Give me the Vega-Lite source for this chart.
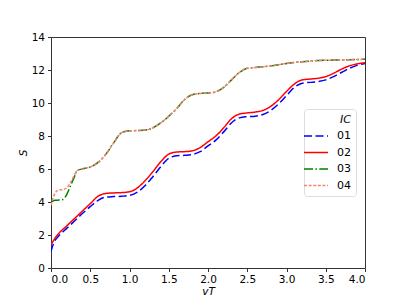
{
  "$schema": "https://vega.github.io/schema/vega-lite/v6.json",
  "width": 314,
  "height": 231,
  "autosize": {"type": "none"},
  "padding": {"left": 51, "top": 37, "right": 42, "bottom": 37},
  "background": "white",
  "config": {
    "font": "DejaVu Sans",
    "view": {"stroke": "#333333", "strokeWidth": 1},
    "axis": {"grid": false, "domain": false, "tickColor": "#333333", "tickSize": 3.5, "labelFontSize": 10.5, "labelColor": "#000000", "titleFontSize": 10.5, "titleFontWeight": "normal", "titleFontStyle": "italic", "titleColor": "#000000"}
  },
  "data": {
    "values": [
      {"vT": 0.0, "S": 1.0, "IC": "01"}, {"vT": 0.03, "S": 1.45, "IC": "01"}, {"vT": 0.05, "S": 1.65, "IC": "01"}, {"vT": 0.1, "S": 1.95, "IC": "01"}, {"vT": 0.2, "S": 2.4, "IC": "01"}, {"vT": 0.3, "S": 2.85, "IC": "01"}, {"vT": 0.4, "S": 3.3, "IC": "01"}, {"vT": 0.5, "S": 3.72, "IC": "01"}, {"vT": 0.6, "S": 4.1, "IC": "01"}, {"vT": 0.7, "S": 4.3, "IC": "01"}, {"vT": 0.8, "S": 4.33, "IC": "01"}, {"vT": 0.9, "S": 4.35, "IC": "01"}, {"vT": 1.0, "S": 4.4, "IC": "01"}, {"vT": 1.1, "S": 4.6, "IC": "01"}, {"vT": 1.2, "S": 5.0, "IC": "01"}, {"vT": 1.3, "S": 5.55, "IC": "01"}, {"vT": 1.4, "S": 6.15, "IC": "01"}, {"vT": 1.5, "S": 6.65, "IC": "01"}, {"vT": 1.6, "S": 6.8, "IC": "01"}, {"vT": 1.7, "S": 6.83, "IC": "01"}, {"vT": 1.8, "S": 6.88, "IC": "01"}, {"vT": 1.9, "S": 7.05, "IC": "01"}, {"vT": 2.0, "S": 7.4, "IC": "01"}, {"vT": 2.1, "S": 7.75, "IC": "01"}, {"vT": 2.2, "S": 8.25, "IC": "01"}, {"vT": 2.3, "S": 8.8, "IC": "01"}, {"vT": 2.4, "S": 9.1, "IC": "01"}, {"vT": 2.5, "S": 9.17, "IC": "01"}, {"vT": 2.6, "S": 9.2, "IC": "01"}, {"vT": 2.7, "S": 9.3, "IC": "01"}, {"vT": 2.8, "S": 9.55, "IC": "01"}, {"vT": 2.9, "S": 9.95, "IC": "01"}, {"vT": 3.0, "S": 10.45, "IC": "01"}, {"vT": 3.1, "S": 10.95, "IC": "01"}, {"vT": 3.2, "S": 11.2, "IC": "01"}, {"vT": 3.3, "S": 11.25, "IC": "01"}, {"vT": 3.4, "S": 11.3, "IC": "01"}, {"vT": 3.5, "S": 11.4, "IC": "01"}, {"vT": 3.6, "S": 11.6, "IC": "01"}, {"vT": 3.7, "S": 11.85, "IC": "01"}, {"vT": 3.8, "S": 12.1, "IC": "01"}, {"vT": 3.9, "S": 12.28, "IC": "01"}, {"vT": 4.0, "S": 12.4, "IC": "01"},

      {"vT": 0.0, "S": 1.4, "IC": "02"}, {"vT": 0.05, "S": 1.8, "IC": "02"}, {"vT": 0.1, "S": 2.1, "IC": "02"}, {"vT": 0.2, "S": 2.55, "IC": "02"}, {"vT": 0.3, "S": 3.0, "IC": "02"}, {"vT": 0.4, "S": 3.45, "IC": "02"}, {"vT": 0.5, "S": 3.9, "IC": "02"}, {"vT": 0.6, "S": 4.35, "IC": "02"}, {"vT": 0.7, "S": 4.52, "IC": "02"}, {"vT": 0.8, "S": 4.55, "IC": "02"}, {"vT": 0.9, "S": 4.57, "IC": "02"}, {"vT": 1.0, "S": 4.62, "IC": "02"}, {"vT": 1.1, "S": 4.85, "IC": "02"}, {"vT": 1.2, "S": 5.3, "IC": "02"}, {"vT": 1.3, "S": 5.85, "IC": "02"}, {"vT": 1.4, "S": 6.45, "IC": "02"}, {"vT": 1.5, "S": 6.9, "IC": "02"}, {"vT": 1.6, "S": 7.03, "IC": "02"}, {"vT": 1.7, "S": 7.05, "IC": "02"}, {"vT": 1.8, "S": 7.1, "IC": "02"}, {"vT": 1.9, "S": 7.3, "IC": "02"}, {"vT": 2.0, "S": 7.65, "IC": "02"}, {"vT": 2.1, "S": 8.0, "IC": "02"}, {"vT": 2.2, "S": 8.5, "IC": "02"}, {"vT": 2.3, "S": 9.05, "IC": "02"}, {"vT": 2.4, "S": 9.33, "IC": "02"}, {"vT": 2.5, "S": 9.4, "IC": "02"}, {"vT": 2.6, "S": 9.45, "IC": "02"}, {"vT": 2.7, "S": 9.55, "IC": "02"}, {"vT": 2.8, "S": 9.8, "IC": "02"}, {"vT": 2.9, "S": 10.2, "IC": "02"}, {"vT": 3.0, "S": 10.7, "IC": "02"}, {"vT": 3.1, "S": 11.15, "IC": "02"}, {"vT": 3.2, "S": 11.4, "IC": "02"}, {"vT": 3.3, "S": 11.45, "IC": "02"}, {"vT": 3.4, "S": 11.5, "IC": "02"}, {"vT": 3.5, "S": 11.6, "IC": "02"}, {"vT": 3.6, "S": 11.8, "IC": "02"}, {"vT": 3.7, "S": 12.05, "IC": "02"}, {"vT": 3.8, "S": 12.25, "IC": "02"}, {"vT": 3.9, "S": 12.37, "IC": "02"}, {"vT": 4.0, "S": 12.44, "IC": "02"},

      {"vT": 0.0, "S": 4.0, "IC": "03"}, {"vT": 0.05, "S": 4.1, "IC": "03"}, {"vT": 0.1, "S": 4.12, "IC": "03"}, {"vT": 0.15, "S": 4.15, "IC": "03"}, {"vT": 0.2, "S": 4.45, "IC": "03"}, {"vT": 0.25, "S": 5.0, "IC": "03"}, {"vT": 0.3, "S": 5.55, "IC": "03"}, {"vT": 0.33, "S": 5.9, "IC": "03"}, {"vT": 0.4, "S": 6.0, "IC": "03"}, {"vT": 0.5, "S": 6.12, "IC": "03"}, {"vT": 0.6, "S": 6.4, "IC": "03"}, {"vT": 0.7, "S": 6.9, "IC": "03"}, {"vT": 0.8, "S": 7.6, "IC": "03"}, {"vT": 0.9, "S": 8.2, "IC": "03"}, {"vT": 1.0, "S": 8.32, "IC": "03"}, {"vT": 1.1, "S": 8.33, "IC": "03"}, {"vT": 1.2, "S": 8.36, "IC": "03"}, {"vT": 1.3, "S": 8.5, "IC": "03"}, {"vT": 1.4, "S": 8.8, "IC": "03"}, {"vT": 1.5, "S": 9.2, "IC": "03"}, {"vT": 1.6, "S": 9.65, "IC": "03"}, {"vT": 1.7, "S": 10.2, "IC": "03"}, {"vT": 1.8, "S": 10.5, "IC": "03"}, {"vT": 1.9, "S": 10.58, "IC": "03"}, {"vT": 2.0, "S": 10.6, "IC": "03"}, {"vT": 2.1, "S": 10.68, "IC": "03"}, {"vT": 2.2, "S": 10.95, "IC": "03"}, {"vT": 2.3, "S": 11.4, "IC": "03"}, {"vT": 2.4, "S": 11.85, "IC": "03"}, {"vT": 2.5, "S": 12.1, "IC": "03"}, {"vT": 2.6, "S": 12.15, "IC": "03"}, {"vT": 2.7, "S": 12.2, "IC": "03"}, {"vT": 2.8, "S": 12.25, "IC": "03"}, {"vT": 2.9, "S": 12.32, "IC": "03"}, {"vT": 3.0, "S": 12.4, "IC": "03"}, {"vT": 3.2, "S": 12.5, "IC": "03"}, {"vT": 3.4, "S": 12.57, "IC": "03"}, {"vT": 3.6, "S": 12.6, "IC": "03"}, {"vT": 3.8, "S": 12.62, "IC": "03"}, {"vT": 4.0, "S": 12.65, "IC": "03"},

      {"vT": 0.0, "S": 3.8, "IC": "04"}, {"vT": 0.03, "S": 4.3, "IC": "04"}, {"vT": 0.07, "S": 4.65, "IC": "04"}, {"vT": 0.1, "S": 4.72, "IC": "04"}, {"vT": 0.15, "S": 4.75, "IC": "04"}, {"vT": 0.2, "S": 4.85, "IC": "04"}, {"vT": 0.25, "S": 5.2, "IC": "04"}, {"vT": 0.3, "S": 5.65, "IC": "04"}, {"vT": 0.33, "S": 5.9, "IC": "04"}, {"vT": 0.4, "S": 6.0, "IC": "04"}, {"vT": 0.5, "S": 6.12, "IC": "04"}, {"vT": 0.6, "S": 6.4, "IC": "04"}, {"vT": 0.7, "S": 6.9, "IC": "04"}, {"vT": 0.8, "S": 7.6, "IC": "04"}, {"vT": 0.9, "S": 8.2, "IC": "04"}, {"vT": 1.0, "S": 8.32, "IC": "04"}, {"vT": 1.1, "S": 8.33, "IC": "04"}, {"vT": 1.2, "S": 8.36, "IC": "04"}, {"vT": 1.3, "S": 8.5, "IC": "04"}, {"vT": 1.4, "S": 8.8, "IC": "04"}, {"vT": 1.5, "S": 9.2, "IC": "04"}, {"vT": 1.6, "S": 9.65, "IC": "04"}, {"vT": 1.7, "S": 10.2, "IC": "04"}, {"vT": 1.8, "S": 10.5, "IC": "04"}, {"vT": 1.9, "S": 10.58, "IC": "04"}, {"vT": 2.0, "S": 10.6, "IC": "04"}, {"vT": 2.1, "S": 10.68, "IC": "04"}, {"vT": 2.2, "S": 10.95, "IC": "04"}, {"vT": 2.3, "S": 11.4, "IC": "04"}, {"vT": 2.4, "S": 11.85, "IC": "04"}, {"vT": 2.5, "S": 12.1, "IC": "04"}, {"vT": 2.6, "S": 12.15, "IC": "04"}, {"vT": 2.7, "S": 12.2, "IC": "04"}, {"vT": 2.8, "S": 12.25, "IC": "04"}, {"vT": 2.9, "S": 12.32, "IC": "04"}, {"vT": 3.0, "S": 12.4, "IC": "04"}, {"vT": 3.2, "S": 12.5, "IC": "04"}, {"vT": 3.4, "S": 12.57, "IC": "04"}, {"vT": 3.6, "S": 12.6, "IC": "04"}, {"vT": 3.8, "S": 12.62, "IC": "04"}, {"vT": 4.0, "S": 12.65, "IC": "04"}
    ]
  },
  "mark": {"type": "line", "interpolate": "monotone", "strokeWidth": 1.5, "clip": true},
  "encoding": {
    "x": {"field": "vT", "type": "quantitative", "title": "vT",
      "scale": {"domain": [0, 4], "nice": false},
      "axis": {"values": [0, 0.5, 1, 1.5, 2, 2.5, 3, 3.5, 4], "format": ".1f", "labelPadding": 3, "titlePadding": 1}},
    "y": {"field": "S", "type": "quantitative", "title": "S",
      "scale": {"domain": [0, 14], "nice": false},
      "axis": {"values": [0, 2, 4, 6, 8, 10, 12, 14], "labelPadding": 3, "titlePadding": 3}},
    "color": {"field": "IC", "type": "nominal",
      "scale": {"domain": ["01", "02", "03", "04"], "range": ["#0000ff", "#ff0000", "#008000", "#fa8072"]},
      "legend": {"title": "IC", "orient": "none", "legendX": 253, "legendY": 72,
        "titleFontStyle": "italic", "titleFontWeight": "normal", "titleFontSize": 11, "titleAnchor": "end", "titlePadding": 4,
        "labelFontSize": 11, "symbolType": "M-2,0H2", "symbolSize": 144, "symbolStrokeWidth": 1.5,
        "padding": 5, "fillColor": "white", "strokeColor": "#dddddd", "cornerRadius": 3, "rowPadding": 4.5, "labelOffset": 14}},
    "strokeDash": {"field": "IC", "type": "nominal",
      "scale": {"domain": ["01", "02", "03", "04"], "range": [[8, 3.5], [1, 0], [9, 2.4, 1.5, 2.4], [3, 1.6]]},
      "legend": {"title": "IC"}}
  }
}
